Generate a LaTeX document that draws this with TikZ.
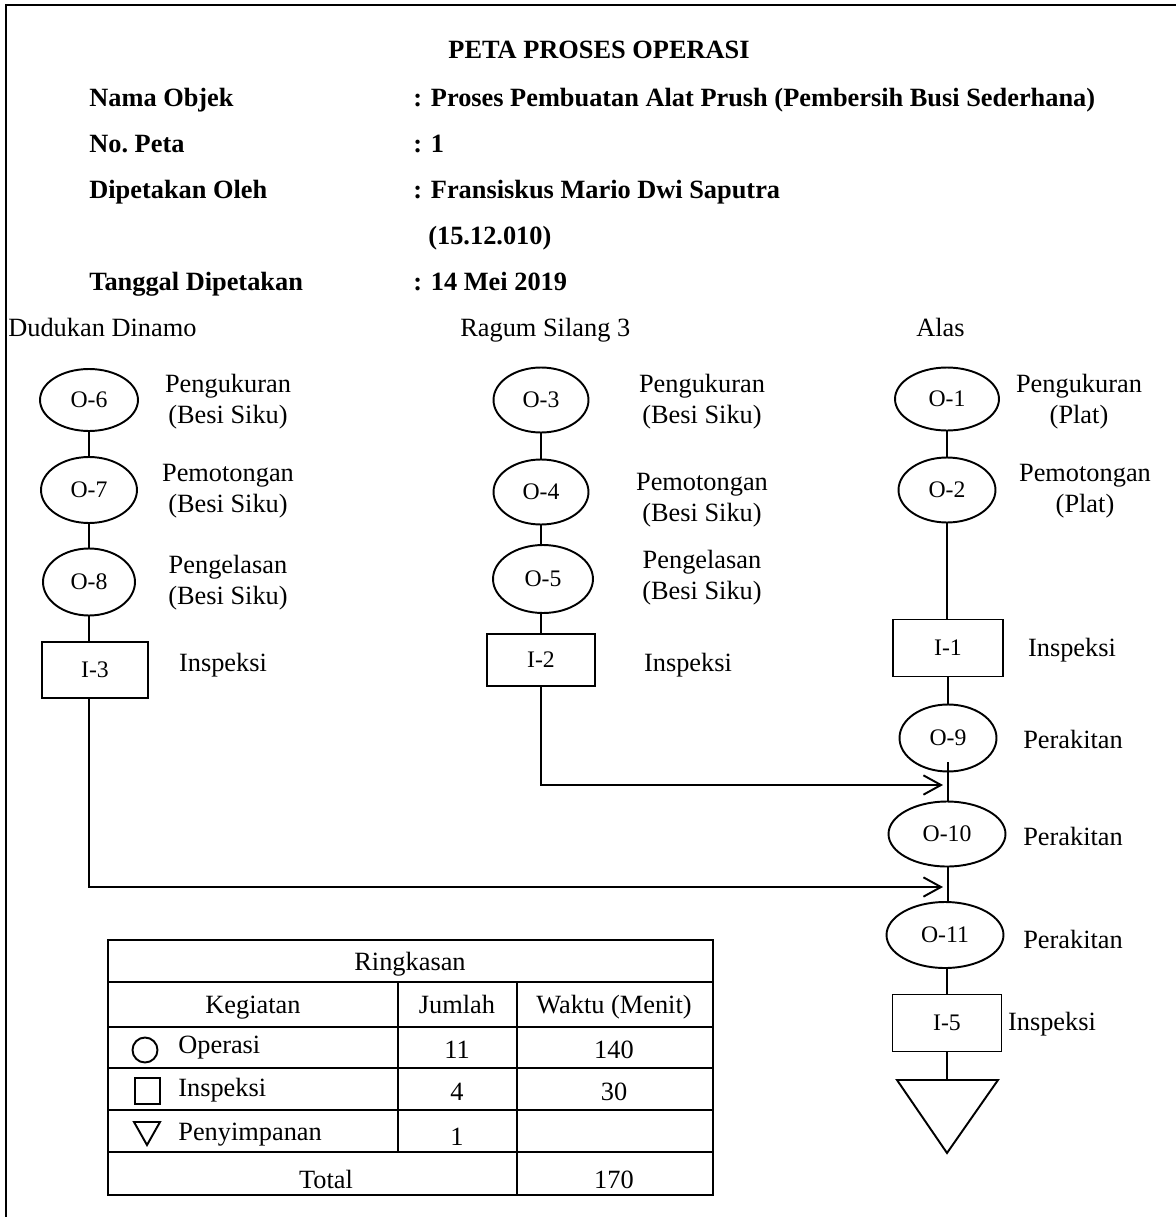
\documentclass[tikz,border=0pt]{standalone}
\usepackage{fontspec}
\setmainfont{Liberation Serif}
\usetikzlibrary{shapes.geometric,arrows.meta}
\tikzset{
  op/.style={ellipse, draw, line width=1.1pt, inner sep=0pt, font=\fontsize{13.5}{16}\selectfont},
  ins/.style={rectangle, draw, line width=1.1pt, inner sep=0pt, font=\fontsize{13.5}{16}\selectfont},
  lbl/.style={align=center, inner sep=0pt, font=\fontsize{15}{17.6}\selectfont},
  sl/.style={inner sep=0pt, font=\fontsize{15}{17.6}\selectfont, text height=10pt, text depth=0pt},
  hdr/.style={anchor=west, inner sep=0pt, font=\bfseries\fontsize{15}{18}\selectfont, text height=10pt, text depth=0pt},
  conn/.style={line width=1.1pt},
  arr/.style={line width=1.1pt, -{Straight Barb[length=10pt,width=11pt,line width=1.1pt]}},
  tline/.style={line width=1.1pt},
}
\begin{document}
\begin{tikzpicture}[x=0.02cm,y=-0.02cm]
\useasboundingbox (0,0) rectangle (1176,1217);
% border (top and left only)
\draw[line width=1.7pt, line join=miter] (6,1217) -- (6,5) -- (1176,5);

% header
\node[hdr, anchor=center] (title) at (599,50) {PETA PROSES OPERASI};
\node[hdr] (h1) at (89,98) {Nama Objek};
\node[hdr] (h2) at (89,144) {No.\ Peta};
\node[hdr] (h3) at (89,190) {Dipetakan Oleh};
\node[hdr] (h4) at (89,282) {Tanggal Dipetakan};
\node[hdr] (v1) at (413,98) {: Proses Pembuatan Alat Prush (Pembersih Busi Sederhana)};
\node[hdr] (v2) at (413,144) {: 1};
\node[hdr] (v3) at (413,190) {: Fransiskus Mario Dwi Saputra};
\node[hdr] (v3b) at (428,236) {(15.12.010)};
\node[hdr] (v4) at (413,282) {: 14 Mei 2019};

% column titles
\node[sl, anchor=west] (c1) at (8,328) {Dudukan Dinamo};
\node[sl, anchor=west] (c2) at (460,328) {Ragum Silang 3};
\node[sl, anchor=west] (c3) at (916,328) {Alas};

% left column
\node[op, minimum width=1.96cm, minimum height=1.24cm] (o6) at (89,400) {O-6};
\node[op, minimum width=1.92cm, minimum height=1.32cm] (o7) at (89,490) {O-7};
\node[op, minimum width=1.84cm, minimum height=1.34cm] (o8) at (89,582) {O-8};
\node[ins, minimum width=2.12cm, minimum height=1.12cm] (i3) at (95,670) {I-3};
\node[lbl] (l6) at (228,402) {Pengukuran\\(Besi Siku)};
\node[lbl] (l7) at (228,491) {Pemotongan\\(Besi Siku)};
\node[lbl] (l8) at (228,583) {Pengelasan\\(Besi Siku)};
\node[sl] (li3) at (223,663) {Inspeksi};

% middle column
\node[op, minimum width=1.90cm, minimum height=1.30cm] (o3) at (541,400) {O-3};
\node[op, minimum width=1.90cm, minimum height=1.30cm] (o4) at (541,492) {O-4};
\node[op, minimum width=2.00cm, minimum height=1.36cm] (o5) at (543,579) {O-5};
\node[ins, minimum width=2.16cm, minimum height=1.04cm] (i2) at (541,660) {I-2};
\node[lbl] (l3) at (702,402) {Pengukuran\\(Besi Siku)};
\node[lbl] (l4) at (702,500) {Pemotongan\\(Besi Siku)};
\node[lbl] (l5) at (702,578) {Pengelasan\\(Besi Siku)};
\node[sl] (li2) at (688,663) {Inspeksi};

% right column
\node[op, minimum width=2.08cm, minimum height=1.26cm] (o1) at (947,399) {O-1};
\node[op, minimum width=1.94cm, minimum height=1.30cm] (o2) at (947,490) {O-2};
\node[ins, minimum width=2.20cm, minimum height=1.14cm] (i1) at (948,648) {I-1};
\node[op, minimum width=1.94cm, minimum height=1.34cm] (o9) at (948,738) {O-9};
\node[op, minimum width=2.34cm, minimum height=1.30cm] (o10) at (947,834) {O-10};
\node[op, minimum width=2.34cm, minimum height=1.32cm] (o11) at (945,935) {O-11};
\node[ins, minimum width=2.18cm, minimum height=1.14cm] (i5) at (947,1023) {I-5};
\coordinate (tri) at (947,1080);
\coordinate (triL) at (897,1080);
\coordinate (triR) at (998,1080);
\coordinate (triB) at (947,1153);
\draw[conn, line join=miter] (triL) -- (triR) -- (triB) -- cycle;
\node[lbl] (l1) at (1079,402) {Pengukuran\\(Plat)};
\node[lbl] (l2) at (1085,491) {Pemotongan\\(Plat)};
\node[sl] (li1) at (1072,648) {Inspeksi};
\node[sl] (l9) at (1073,740) {Perakitan};
\node[sl] (l10) at (1073,837) {Perakitan};
\node[sl] (l11) at (1073,940) {Perakitan};
\node[sl] (li5) at (1052,1022) {Inspeksi};

% connectors
\draw[conn] (o6) -- (o7);
\draw[conn] (o7) -- (o8);
\draw[conn] (o8.south) -- (o8.south |- i3.north);
\draw[conn] (o3) -- (o4);
\draw[conn] (o4.south) -- (o4.south |- o5.north);
\draw[conn] (o5.south -| i2.north) -- (i2.north);
\draw[conn] (o1) -- (o2);
\draw[conn] (o2.south) -- (o2.south |- i1.north);
\draw[conn] (i1.south) -- (o9.north);
\draw[conn] (o9.south) ++(0,-10) -- (o9.south |- o10.north);
\draw[conn] (o10.south -| o9.south) -- (o9.south |- o11.north);
\draw[conn] (o11.south -| i5.north) -- (i5.north);
\draw[conn] (i5.south) -- (tri);

\coordinate (a1) at (943,785);
\coordinate (a2) at (943,887);
\draw[arr] (i2.south) |- (a1);
\draw[arr] (i3.south -| o8.south) |- (a2);

% summary table
\draw[tline] (108,940) rectangle (713,1195);
\foreach \yy in {982,1027,1068,1110,1152} \draw[tline] (108,\yy) -- (713,\yy);
\draw[tline] (398,982) -- (398,1152);
\draw[tline] (517,982) -- (517,1195);
\node[sl] (tr) at (410,962) {Ringkasan};
\node[sl] (tk) at (253,1005) {Kegiatan};
\node[sl] (tj) at (457,1005) {Jumlah};
\node[sl] (tw) at (614,1005) {Waktu (Menit)};
\draw[tline] (145,1050) circle[radius=0.25cm];
\draw[tline] (135,1078) rectangle (160,1104);
\draw[line width=1.1pt, line join=miter] (134,1122) -- (160,1122) -- (147,1145) -- cycle;
\node[sl, anchor=west] (t1) at (178,1045) {Operasi};
\node[sl, anchor=west] (t2) at (178,1088) {Inspeksi};
\node[sl, anchor=west] (t3) at (178,1132) {Penyimpanan};
\node[sl] (n1) at (457,1050) {11};
\node[sl] (n2) at (457,1092) {4};
\node[sl] (n3) at (457,1137) {1};
\node[sl] (w1) at (614,1050) {140};
\node[sl] (w2) at (614,1092) {30};
\node[sl] (tt) at (326,1180) {Total};
\node[sl] (w3) at (614,1180) {170};
\end{tikzpicture}
\end{document}
